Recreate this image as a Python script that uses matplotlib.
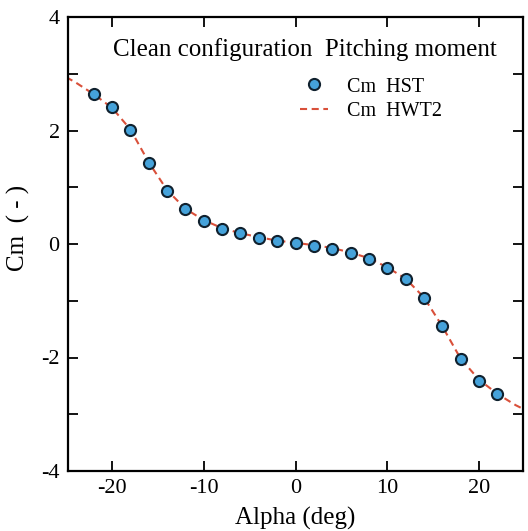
import matplotlib

matplotlib.use("Agg")
import matplotlib.pyplot as plt
from matplotlib.ticker import MultipleLocator

# HST measurements (markers)
alpha_hst = [-22, -20, -18, -16, -14, -12, -10, -8, -6, -4, -2, 0,
             2, 4, 6, 8, 10, 12, 14, 16, 18, 20, 22]
cm_hst = [2.65, 2.41, 2.01, 1.42, 0.94, 0.61, 0.40, 0.27, 0.19, 0.11, 0.05, 0.01,
          -0.03, -0.08, -0.16, -0.26, -0.42, -0.62, -0.95, -1.44, -2.03, -2.41, -2.64]

# HWT2 curve (dashed)
alpha_hwt = [-25, -24, -22, -20, -18, -16, -14, -12, -10, -8, -6, -4, -2, 0,
             2, 4, 6, 8, 10, 12, 14, 16, 18, 20, 22, 24, 25]
cm_hwt = [2.94, 2.85, 2.64, 2.40, 2.02, 1.44, 0.95, 0.62, 0.42, 0.28, 0.19, 0.12, 0.06, 0.02,
          -0.02, -0.07, -0.15, -0.25, -0.41, -0.61, -0.94, -1.45, -2.02, -2.39, -2.64, -2.84, -2.92]

plt.rcParams["font.family"] = ["Liberation Serif", "DejaVu Serif"]
plt.rcParams["axes.unicode_minus"] = False

fig = plt.figure(figsize=(5.28, 5.31), dpi=100)
ax = fig.add_axes([68 / 528, 1 - 471 / 531, 455 / 528, 454 / 531])

ax.plot(alpha_hwt, cm_hwt, linestyle=(0, (3.4, 2.2)), color="#d9503a",
        linewidth=1.5, label="Cm  HWT2", zorder=2)
ax.plot(alpha_hst, cm_hst, linestyle="none", marker="o", markersize=8,
        markerfacecolor="#45a2da", markeredgecolor="#10212e", markeredgewidth=1.5,
        label="Cm  HST", zorder=3)

ax.set_xlim(-24.8, 24.8)
ax.set_ylim(-4, 4)
ax.xaxis.set_major_locator(MultipleLocator(10))
ax.yaxis.set_major_locator(MultipleLocator(2))
ax.yaxis.set_minor_locator(MultipleLocator(1))
ax.tick_params(which="both", direction="in", top=True, right=True,
               labelsize=16, length=7.5, width=1.3, pad=6)
for side in ax.spines.values():
    side.set_linewidth(1.6)

ax.set_xlabel("Alpha (deg)", fontsize=18, labelpad=6)
ax.set_ylabel("Cm  ( - )", fontsize=18)
ax.yaxis.set_label_coords(-0.083, 0.535)

ax.text(0.098, 0.928, "Clean configuration  Pitching moment", transform=ax.transAxes,
        fontsize=18, ha="left", va="center")

handles, labels = ax.get_legend_handles_labels()
ax.legend(handles[::-1], labels[::-1], loc="upper left",
          bbox_to_anchor=(0.478, 0.898), frameon=False, fontsize=14.5,
          handlelength=1.4, handletextpad=0.95, labelspacing=0.25, borderpad=0.2)

fig.savefig("out.png", dpi=100)
